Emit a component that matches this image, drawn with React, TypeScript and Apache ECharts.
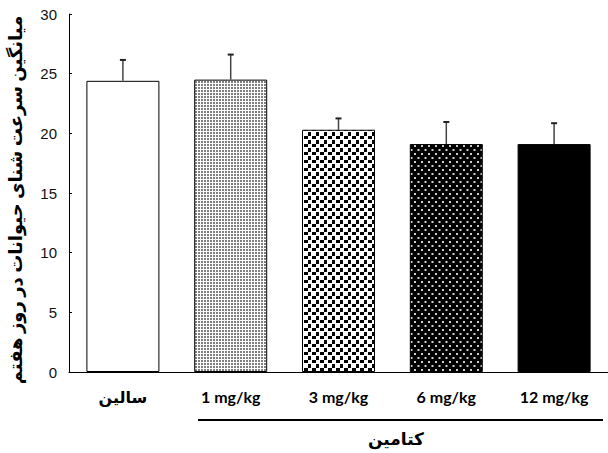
import React, { useEffect, useRef } from "react";
import * as echarts from "echarts";

const categories = ["سالین", "1 mg/kg", "3 mg/kg", "6 mg/kg", "12 mg/kg"];
const means = [24.4, 24.5, 20.3, 19.1, 19.1];
const errors = [1.75, 2.1, 0.95, 1.85, 1.75];
const yTicks = { min: 0, max: 30, interval: 5 };
const yTitle = "میانگین سرعت شنای حیوانات در روز هفتم";
const groupTitle = "کتامین";

function makeTile(w: number, h: number, bg: string, fg: string, rects: number[][]) {
  const c = document.createElement("canvas");
  c.width = w;
  c.height = h;
  const ctx = c.getContext("2d")!;
  ctx.fillStyle = bg;
  ctx.fillRect(0, 0, w, h);
  ctx.fillStyle = fg;
  rects.forEach(([x, y, rw, rh]) => ctx.fillRect(x, y, rw, rh));
  return { image: c, repeat: "repeat", imageWidth: w, imageHeight: h };
}

export default function App() {
  const ref = useRef<HTMLDivElement>(null);
  useEffect(() => {
    if (!ref.current) return;
    const chart = echarts.init(ref.current, null, { renderer: "svg" });
    const fills: any[] = [
      "#ffffff",
      makeTile(3, 3, "#ffffff", "#808080", [[0, 0, 2, 2]]),
      makeTile(8, 8, "#ffffff", "#000000", [[0, 0, 4, 3], [4, 4, 3, 4]]),
      makeTile(7, 8, "#000000", "#cfcfcf", [[1, 1, 2, 2], [4.5, 5, 2, 2]]),
      "#000000",
    ];
    const fontLat = "Lato, 'DejaVu Sans', sans-serif";
    chart.setOption({
      animation: false,
      grid: { left: 69, top: 14, width: 546, height: 358 },
      xAxis: {
        type: "category",
        data: categories,
        axisLine: { lineStyle: { color: "#000", width: 1 } },
        axisTick: { show: false },
        axisLabel: {
          margin: 16,
          color: "#000",
          fontFamily: fontLat,
          fontWeight: "bold",
          fontSize: 16,
        },
      },
      yAxis: {
        type: "value",
        min: yTicks.min,
        max: yTicks.max,
        interval: yTicks.interval,
        splitLine: { show: false },
        axisLine: { show: true, lineStyle: { color: "#000", width: 1 } },
        axisTick: { show: true, inside: true, length: 3, lineStyle: { color: "#000" } },
        axisLabel: {
          margin: 12,
          color: "#111",
          fontFamily: "'Liberation Sans', Arial, sans-serif",
          fontSize: 15,
        },
      },
      graphic: [
        {
          type: "text",
          x: 15,
          y: 200,
          rotation: Math.PI / 2,
          style: {
            text: yTitle,
            x: 0,
            y: 0,
            align: "center",
            verticalAlign: "middle",
            fill: "#000",
            font: "bold 18px " + fontLat,
          },
        },
        {
          type: "line",
          shape: { x1: 198, y1: 420, x2: 603, y2: 420 },
          style: { stroke: "#000", lineWidth: 2 },
        },
        {
          type: "text",
          x: 396,
          y: 438,
          style: {
            text: groupTitle,
            x: 0,
            y: 0,
            align: "center",
            verticalAlign: "middle",
            fill: "#000",
            font: "bold 17px " + fontLat,
          },
        },
      ],
      series: [
        {
          type: "bar",
          barWidth: 73,
          data: means.map((v, i) => ({
            value: v,
            itemStyle: { color: fills[i], borderColor: "#000", borderWidth: 1 },
          })),
        },
        {
          type: "custom",
          z: 10,
          encode: { x: 0, y: [1, 2] },
          data: means.map((v, i) => [i, v, v + errors[i]]),
          renderItem: (params: any, api: any) => {
            const base = api.coord([api.value(0), api.value(1)]);
            const top = api.coord([api.value(0), api.value(2)]);
            return {
              type: "group",
              children: [
                {
                  type: "line",
                  shape: { x1: base[0], y1: base[1], x2: top[0], y2: top[1] },
                  style: { stroke: "#444", lineWidth: 1.5 },
                },
                {
                  type: "line",
                  shape: { x1: top[0] - 3, y1: top[1], x2: top[0] + 3, y2: top[1] },
                  style: { stroke: "#222", lineWidth: 2 },
                },
              ],
            };
          },
        },
      ],
    });
    return () => chart.dispose();
  }, []);
  return (
    <div
      ref={ref}
      style={{ position: "fixed", left: 0, top: 0, width: 608, height: 453, background: "#fff" }}
    />
  );
}
